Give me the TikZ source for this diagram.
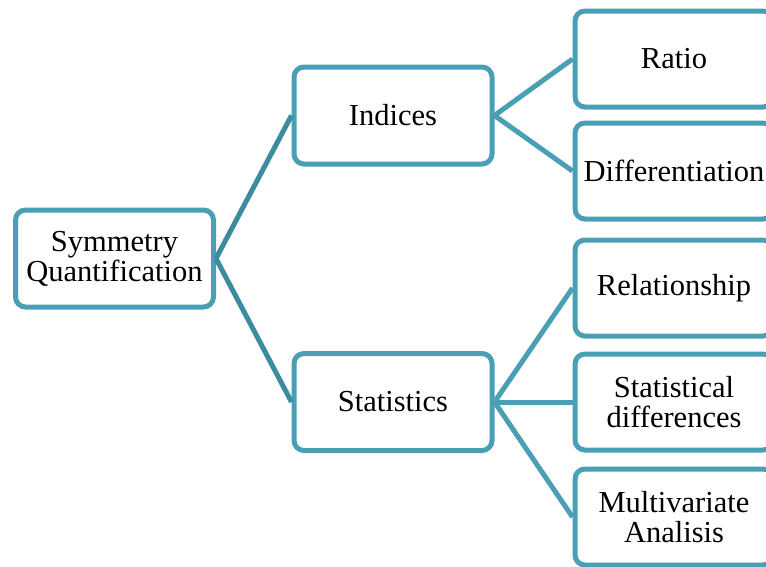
\documentclass[tikz,border=0pt]{standalone}
\usepackage{fontspec}
\setmainfont{Liberation Serif}
\definecolor{boxline}{RGB}{75,159,181}
\definecolor{rootline}{RGB}{60,140,160}
\begin{document}
\begin{tikzpicture}[x=1pt,y=-1pt,
  box/.style={draw=boxline, line width=5pt, rounded corners=10pt, fill=white,
    inner sep=0pt, align=center, font=\fontsize{30.5}{30}\selectfont},
  leftbox/.style={box, minimum width=198pt, minimum height=97pt},
  rightbox/.style={box, minimum width=198pt, minimum height=96pt},
  conn/.style={draw=boxline, line width=5pt},
  rootconn/.style={draw=rootline, line width=5pt}]
\useasboundingbox (0,0) rectangle (766,566);
\clip (0,0) rectangle (766,566);
\node[leftbox] (root) at (114.5,258.5) {Symmetry\\Quantification};
\node[leftbox] (ind) at (393,115.5) {Indices};
\node[leftbox] (stat) at (393,402) {Statistics};
\node[rightbox] (ratio) at (674,59) {Ratio};
\node[rightbox] (diff) at (674,171) {Differentiation};
\node[rightbox] (rel) at (674,288) {Relationship};
\node[rightbox] (sdiff) at (674,402) {Statistical\\differences};
\node[rightbox] (mva) at (674,517) {Multivariate\\Analisis};
\draw[rootconn] (root.east) -- (ind.west);
\draw[rootconn] (root.east) -- (stat.west);
\draw[conn] (ind.east) -- (ratio.west);
\draw[conn] (ind.east) -- (diff.west);
\draw[conn] (stat.east) -- (rel.west);
\draw[conn] (stat.east) -- (sdiff.west);
\draw[conn] (stat.east) -- (mva.west);
\end{tikzpicture}
\end{document}
